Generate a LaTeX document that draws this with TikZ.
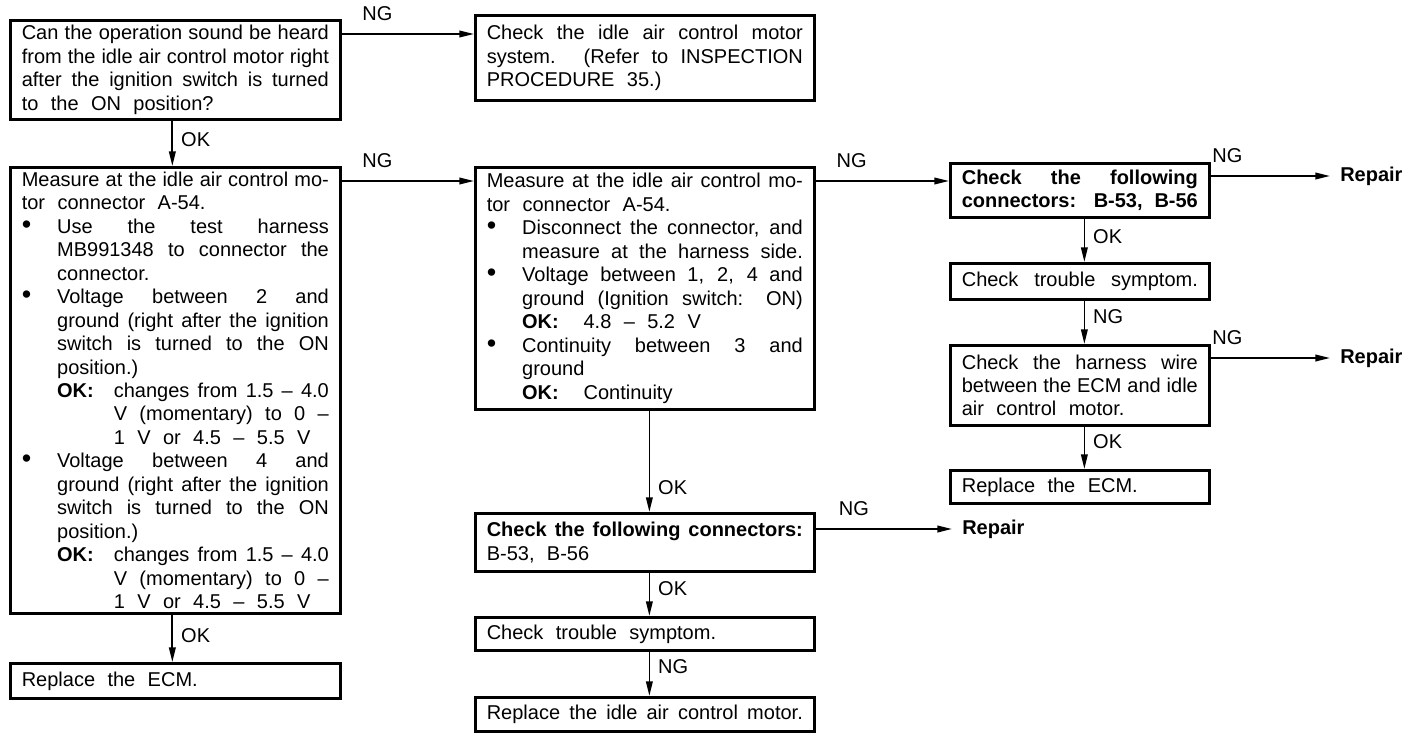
\documentclass[tikz,border=0pt]{standalone}
\usepackage{fontspec}
\usepackage{graphicx}
\setmainfont{Liberation Sans}
\usetikzlibrary{arrows.meta,calc}
\newlength\bind \setlength\bind{26.5pt}
\newlength\okind \setlength\okind{69pt}
\newcommand\fs{\fontsize{15pt}{17.6pt}\selectfont}
\newcommand\bull{\scalebox{1.35}{\textbullet}}
\newcommand\rg[1]{{\spaceskip=.62em\relax #1}}
\newcommand\sj[2]{\makebox[#1][s]{\spaceskip=0pt\xspaceskip=0pt #2}}
\newcommand\lnJ[1]{\sj{\hsize}{#1}}
\newcommand\lnBJ[1]{\makebox[\bind][l]{\bull}\sj{\dimexpr\hsize-\bind\relax}{#1}}
\newcommand\lnIJ[1]{\hspace*{\bind}\sj{\dimexpr\hsize-\bind\relax}{#1}}
\newcommand\lnIR[1]{\hspace*{\bind}\rg{#1}}
\newcommand\lnOK[1]{\hspace*{\bind}\makebox[\dimexpr\okind-\bind\relax][l]{\textbf{OK:}}\sj{\dimexpr\hsize-\okind\relax}{#1}}
\newcommand\lnKJ[1]{\hspace*{\okind}\sj{\dimexpr\hsize-\okind\relax}{#1}}
\newcommand\lnKR[1]{\hspace*{\okind}\rg{#1}}
\tikzset{
  box/.style={draw, line width=2pt, rectangle, anchor=north west, inner xsep=8.6pt, inner ysep=1pt, align=left, font=\fs},
  wA/.style={minimum width=247.5pt, text width=230.3pt},
  wB/.style={minimum width=254.25pt, text width=237.05pt},
  wC/.style={minimum width=194.25pt, text width=177.05pt},
  arr/.style={line width=1.3pt, -{Triangle[length=11pt,width=5pt]}},
  hlab/.style={font=\fs, inner sep=0pt, anchor=base, yshift=10pt},
  vlab/.style={font=\fs, inner sep=0pt, anchor=west, xshift=6pt},
  repair/.style={font=\fs\bfseries, anchor=west, inner xsep=7.5pt, inner ysep=0pt},
}
\begin{document}
\begin{tikzpicture}[x=0.75pt, y=-0.75pt]
\useasboundingbox (0,0) rectangle (1424,736);

% left column
\node[box, wA, minimum height=74.25pt] (b1) at (9,19) {%
\lnJ{Can the operation sound be heard}\\
\lnJ{from the idle air control motor right}\\
\lnJ{after the ignition switch is turned}\\
\rg{to the ON position?}};

\node[box, wA, minimum height=334.5pt] (b3) at (9,166) {%
\lnJ{Measure at the idle air control mo-}\\
\rg{tor connector A-54.}\\
\lnBJ{Use the test harness}\\
\lnIJ{MB991348 to connector the}\\
\lnIR{connector.}\\
\lnBJ{Voltage between 2 and}\\
\lnIJ{ground (right after the ignition}\\
\lnIJ{switch is turned to the ON}\\
\lnIR{position.)}\\
\lnOK{changes from 1.5 – 4.0}\\
\lnKJ{V (momentary) to 0 –}\\
\lnKR{1 V or 4.5 – 5.5 V}\\
\lnBJ{Voltage between 4 and}\\
\lnIJ{ground (right after the ignition}\\
\lnIJ{switch is turned to the ON}\\
\lnIR{position.)}\\
\lnOK{changes from 1.5 – 4.0}\\
\lnKJ{V (momentary) to 0 –}\\
\lnKR{1 V or 4.5 – 5.5 V}};

\node[box, wA, minimum height=26.25pt] (b5) at (9,662) {\rg{Replace the ECM.}};

% middle column
\node[box, wB, minimum height=63.75pt] (b2) at (474,14) {%
\lnJ{Check the idle air control motor}\\
\lnJ{system. (Refer to INSPECTION}\\
\rg{PROCEDURE 35.)}};

\node[box, wB, minimum height=181.5pt] (b4) at (474,166) {%
\lnJ{Measure at the idle air control mo-}\\
\rg{tor connector A-54.}\\
\lnBJ{Disconnect the connector, and}\\
\lnIJ{measure at the harness side.}\\
\lnBJ{Voltage between 1, 2, 4 and}\\
\lnIJ{ground (Ignition switch: ON)}\\
\lnIR{\textbf{OK:}\ \ 4.8 – 5.2 V}\\
\lnBJ{Continuity between 3 and}\\
\lnIR{ground}\\
\lnIR{\textbf{OK:}\ \ Continuity}};

\node[box, wB, minimum height=43.5pt] (b7) at (474,512) {%
\lnJ{\textbf{Check the following connectors:}}\\
\rg{B-53, B-56}};

\node[box, wB, minimum height=24.75pt] (b8) at (474,616) {\rg{Check trouble symptom.}};
\node[box, wB, minimum height=25.5pt] (b9) at (474,696) {\lnJ{Replace the idle air control motor.}};

% right column
\node[box, wC, minimum height=40.5pt] (b6) at (949,162) {%
\lnJ{\textbf{Check the following}}\\
\lnJ{\textbf{connectors: B-53, B-56}}};
\node[box, wC, minimum height=27pt] (b10) at (949,262) {\lnJ{Check trouble symptom.}};
\node[box, wC, minimum height=60pt] (b11) at (949,344) {%
\lnJ{Check the harness wire}\\
\lnJ{between the ECM and idle}\\
\rg{air control motor.}};
\node[box, wC, minimum height=24.75pt] (b12) at (949,469) {\rg{Replace the ECM.}};

% repair nodes
\node[repair] (r1) at (1330,176) {Repair};
\node[repair] (r2) at (1330,358) {Repair};
\node[repair] (r3) at (952,529) {Repair};

% connectors
\draw[arr] ([yshift=-11.25pt]b1.north east) -- ([yshift=-11.25pt]b1.north east -| b2.west) node[hlab, pos=.27] {NG};
\draw[arr] ([xshift=-2.25pt]b1.south) -- ([xshift=-2.25pt]b1.south |- b3.north) node[vlab, pos=.42] {OK};
\draw[arr] ([yshift=-11.25pt]b3.north east) -- ([yshift=-11.25pt]b3.north east -| b4.west) node[hlab, pos=.27] {NG};
\draw[arr] ([xshift=-2.25pt]b3.south) -- ([xshift=-2.25pt]b3.south |- b5.north) node[vlab, pos=.44] {OK};
\draw[arr] ([yshift=-11.25pt]b4.north east) -- ([yshift=-11.25pt]b4.north east -| b6.west) node[hlab, pos=.27] {NG};
\draw[arr] ([xshift=3.4pt]b4.south) -- ([xshift=3.4pt]b4.south |- b7.north) node[vlab, pos=.76] {OK};
\draw[arr] (b7.east |- r3.west) -- (r3.west) node[hlab, pos=.28] {NG};
\draw[arr] ([xshift=3.4pt]b7.south) -- ([xshift=3.4pt]b7.south |- b8.north) node[vlab, pos=.37] {OK};
\draw[arr] ([xshift=3.4pt]b8.south) -- ([xshift=3.4pt]b8.south |- b9.north) node[vlab, pos=.34] {NG};
\draw[arr] (b6.east |- r1.west) -- (r1.west) node[hlab, pos=.14] {NG};
\draw[arr] ([xshift=3.4pt]b6.south) -- ([xshift=3.4pt]b6.south |- b10.north) node[vlab, pos=.42] {OK};
\draw[arr] ([xshift=3.4pt]b10.south) -- ([xshift=3.4pt]b10.south |- b11.north) node[vlab, pos=.37] {NG};
\draw[arr] (b11.east |- r2.west) -- (r2.west) node[hlab, pos=.14] {NG};
\draw[arr] ([xshift=3.4pt]b11.south) -- ([xshift=3.4pt]b11.south |- b12.north) node[vlab, pos=.36] {OK};
\end{tikzpicture}
\end{document}
